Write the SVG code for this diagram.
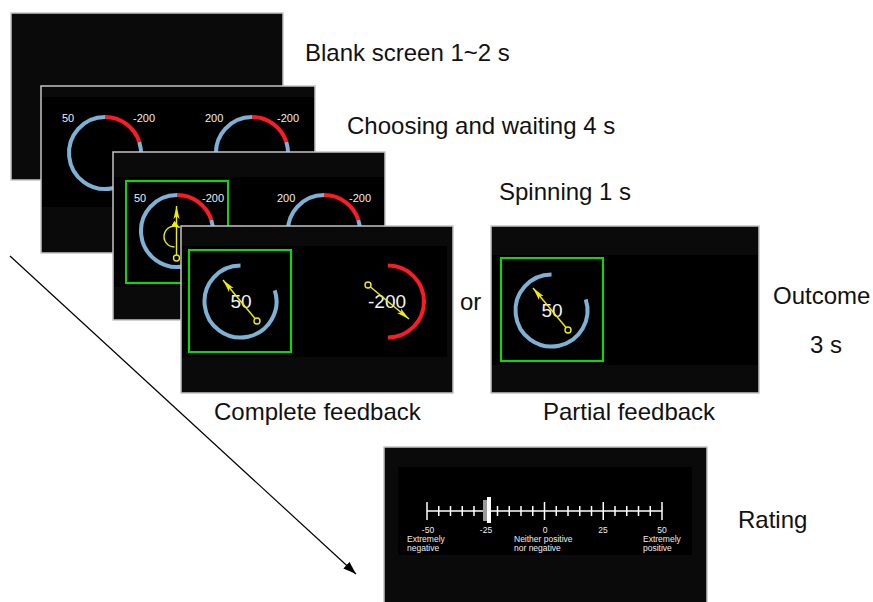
<svg xmlns="http://www.w3.org/2000/svg" width="873" height="602" viewBox="0 0 873 602">
<style>
.scr{fill:#0a0a0a;stroke:#c4c4c4;stroke-width:1.5}
.band{fill:#000}
.lbl{font-family:"Liberation Sans",Arial,sans-serif;font-size:24px;fill:#111}
.sm{font-family:"Liberation Sans",Arial,sans-serif;font-size:11px;fill:#eee}
.big{font-family:"Liberation Sans",Arial,sans-serif;font-size:19px;fill:#f4f4f4}
.tiny{font-family:"Liberation Sans",Arial,sans-serif;font-size:8.5px;fill:#eee}
.blue{fill:none;stroke:#7eb1d6;stroke-width:4}
.red{fill:none;stroke:#ff1b24;stroke-width:4}
.green{fill:none;stroke:#00e000;stroke-width:2}
.ptr{fill:none;stroke:#f2ee00;stroke-width:1.4}
.pin{fill:#000;stroke:#f2ee00;stroke-width:1.4}
.tick{stroke:#fff;stroke-width:1.5}
</style>
<defs>
<marker id="yh" markerUnits="userSpaceOnUse" markerWidth="14" markerHeight="8" refX="13" refY="4" orient="auto">
<path d="M0,1 L13,4 L0,7 L3,4 z" fill="#f2ee00"/>
</marker>
<marker id="yh2" markerUnits="userSpaceOnUse" markerWidth="10" markerHeight="8" refX="8" refY="4" orient="auto">
<path d="M0,0.8 L8,4 L0,7.2 z" fill="#f2ee00"/>
</marker>
<marker id="bh" markerUnits="userSpaceOnUse" markerWidth="14" markerHeight="10" refX="13" refY="5" orient="auto">
<path d="M0,0.5 L13,5 L0,9.5 z" fill="#000"/>
</marker>
</defs>

<g id="screen-blank">
<rect class="scr" x="11" y="13" width="272" height="167"/>
</g>

<g id="screen-choosing">
<rect class="scr" x="41" y="86" width="274" height="167"/>
<rect class="band" x="42" y="97" width="272" height="110"/>
<path class="blue" d="M139.24 141.88 A36 36 0 1 1 105 117"/>
<path class="red" d="M105 117 A36 36 0 0 1 139.24 141.88"/>
<path class="blue" d="M286.24 141.88 A36 36 0 1 1 252 117"/>
<path class="red" d="M252 117 A36 36 0 0 1 286.24 141.88"/>
<text class="sm" x="62" y="122">50</text>
<text class="sm" x="133" y="122">-200</text>
<text class="sm" x="205" y="122">200</text>
<text class="sm" x="277" y="122">-200</text>
</g>

<g id="screen-spinning">
<rect class="scr" x="113" y="152" width="272" height="168"/>
<rect class="band" x="114" y="177" width="270" height="110"/>
<rect class="green" x="126" y="181" width="102" height="102"/>
<path class="blue" d="M211.24 219.88 A36 36 0 1 1 177 195"/>
<path class="red" d="M177 195 A36 36 0 0 1 211.24 219.88"/>
<path class="blue" d="M358.24 219.88 A36 36 0 1 1 324 195"/>
<path class="red" d="M324 195 A36 36 0 0 1 358.24 219.88"/>
<text class="sm" x="134" y="202">50</text>
<text class="sm" x="202" y="202">-200</text>
<text class="sm" x="277" y="202">200</text>
<text class="sm" x="349" y="202">-200</text>
<line class="ptr" x1="176.5" y1="255" x2="176.5" y2="206" marker-end="url(#yh)"/>
<circle class="pin" cx="176.5" cy="258" r="3"/>
<path class="ptr" d="M174.5 247 A10.5 10.5 0 1 1 179.75 227.4" marker-end="url(#yh2)"/>
</g>

<g id="screen-complete">
<rect class="scr" x="181" y="226" width="272" height="167"/>
<rect class="band" x="182" y="246" width="265" height="111"/>
<rect class="green" x="189" y="250" width="102" height="102"/>
<path class="blue" d="M274.74 290.38 A36 36 0 1 1 240.5 265.5"/>
<path class="red" d="M388 265.5 A36 36 0 0 1 388 337.5"/>
<text class="big" x="241" y="308" text-anchor="middle">50</text>
<text class="big" x="387" y="308" text-anchor="middle">-200</text>
<line class="ptr" x1="255" y1="318.5" x2="223" y2="280" marker-end="url(#yh)"/>
<circle class="pin" cx="257" cy="321" r="3"/>
<line class="ptr" x1="370.5" y1="287" x2="409" y2="319" marker-end="url(#yh)"/>
<circle class="pin" cx="368" cy="285" r="3"/>
</g>

<g id="screen-partial">
<rect class="scr" x="491" y="226" width="268" height="167"/>
<rect class="band" x="492" y="255" width="266" height="110"/>
<rect class="green" x="501" y="258" width="102" height="103"/>
<path class="blue" d="M585.74 299.38 A36 36 0 1 1 551.5 274.5"/>
<text class="big" x="552" y="317" text-anchor="middle">50</text>
<line class="ptr" x1="566" y1="327.5" x2="533" y2="288" marker-end="url(#yh)"/>
<circle class="pin" cx="568" cy="330" r="3"/>
</g>

<g id="screen-rating">
<rect class="scr" x="384" y="447" width="323" height="170"/>
<rect class="band" x="398" y="467" width="294" height="88"/>
<line class="tick" x1="427" y1="511" x2="662" y2="511"/>
<g class="tick">
<line x1="427" y1="502" x2="427" y2="520"/>
<line x1="438.75" y1="506" x2="438.75" y2="516"/>
<line x1="450.5" y1="506" x2="450.5" y2="516"/>
<line x1="462.25" y1="506" x2="462.25" y2="516"/>
<line x1="474" y1="506" x2="474" y2="516"/>
<line x1="497.5" y1="506" x2="497.5" y2="516"/>
<line x1="509.25" y1="506" x2="509.25" y2="516"/>
<line x1="521" y1="506" x2="521" y2="516"/>
<line x1="532.75" y1="506" x2="532.75" y2="516"/>
<line x1="544.5" y1="502" x2="544.5" y2="520"/>
<line x1="556.25" y1="506" x2="556.25" y2="516"/>
<line x1="568" y1="506" x2="568" y2="516"/>
<line x1="579.75" y1="506" x2="579.75" y2="516"/>
<line x1="591.5" y1="506" x2="591.5" y2="516"/>
<line x1="603.25" y1="502" x2="603.25" y2="520"/>
<line x1="615" y1="506" x2="615" y2="516"/>
<line x1="626.75" y1="506" x2="626.75" y2="516"/>
<line x1="638.5" y1="506" x2="638.5" y2="516"/>
<line x1="650.25" y1="506" x2="650.25" y2="516"/>
<line x1="662" y1="502" x2="662" y2="520"/>
</g>
<rect x="483" y="500" width="4" height="21" fill="#9a9a9a"/>
<rect x="487" y="497" width="4" height="26" fill="#fff"/>
<text class="tiny" x="428" y="533" text-anchor="middle">-50</text>
<text class="tiny" x="486" y="533" text-anchor="middle">-25</text>
<text class="tiny" x="545" y="533" text-anchor="middle">0</text>
<text class="tiny" x="603" y="533" text-anchor="middle">25</text>
<text class="tiny" x="662" y="533" text-anchor="middle">50</text>
<text class="tiny" x="407" y="542">Extremely</text>
<text class="tiny" x="407" y="551">negative</text>
<text class="tiny" x="514" y="542">Neither positive</text>
<text class="tiny" x="514" y="551">nor negative</text>
<text class="tiny" x="643" y="542">Extremely</text>
<text class="tiny" x="643" y="551">positive</text>
</g>

<g id="connectors">
<line x1="10" y1="256" x2="356" y2="574" stroke="#000" stroke-width="1.2" marker-end="url(#bh)"/>
</g>

<g id="labels">
<text class="lbl" x="305" y="61">Blank screen 1~2 s</text>
<text class="lbl" x="347" y="134">Choosing and waiting 4 s</text>
<text class="lbl" x="499" y="200">Spinning 1 s</text>
<text class="lbl" x="460" y="310">or</text>
<text class="lbl" x="773" y="304">Outcome</text>
<text class="lbl" x="810" y="353">3 s</text>
<text class="lbl" x="214" y="420">Complete feedback</text>
<text class="lbl" x="543" y="420">Partial feedback</text>
<text class="lbl" x="738" y="528">Rating</text>
</g>
</svg>
